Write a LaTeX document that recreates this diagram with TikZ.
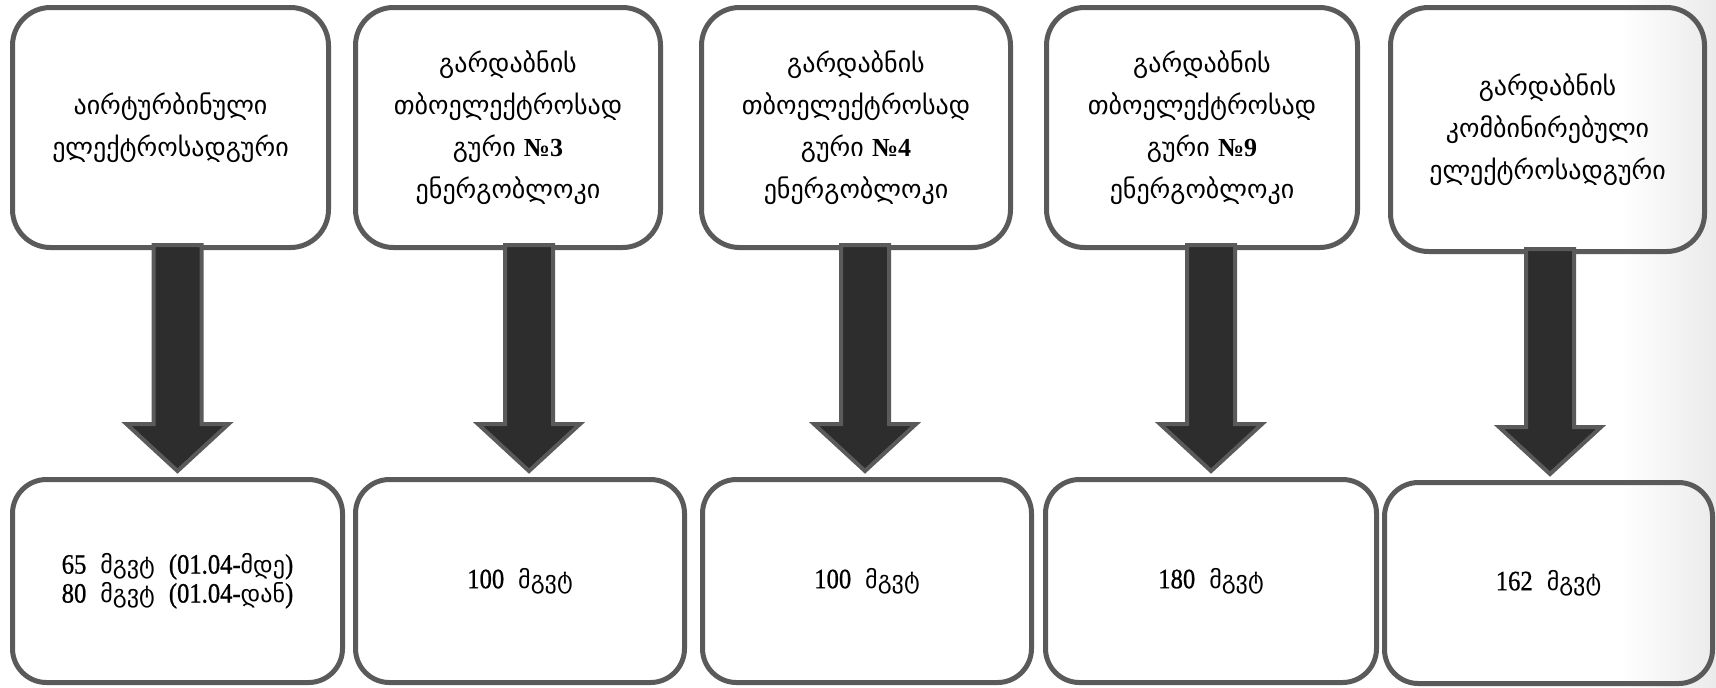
\documentclass[tikz,border=0pt]{standalone}
\usepackage{fontspec}
\setmainfont{Liberation Serif}
\newfontfamily\geo{DejaVu Sans}
\newfontfamily\numf[FakeStretch=0.88,FakeBold=0.8]{Liberation Serif}
\usetikzlibrary{calc}
\definecolor{edge}{HTML}{5A5A5A}
\definecolor{arrowfill}{HTML}{2D2D2D}
\newcommand\geos{\geo\fontsize{12}{14.5}\selectfont}
\newcommand\numb[1]{{\rmfamily\bfseries #1}}
\newcommand\blockarr[3]{%
  \draw[blockarrow]
    ($(#2.north |- #1.south)+(#3-24,-5)$) --
    ($(#2.north)+(#3-24,-53)$) --
    ($(#2.north)+(#3-51,-53)$) --
    ($(#2.north)+(#3,-6)$) --
    ($(#2.north)+(#3+51,-53)$) --
    ($(#2.north)+(#3+24,-53)$) --
    ($(#2.north |- #1.south)+(#3+24,-5)$) -- cycle;}
\begin{document}
\begin{tikzpicture}[x=0.5pt,y=-0.5pt,
  topbox/.style={draw=edge, line width=2.5pt, rounded corners=19pt, align=center,
    inner sep=0pt, minimum height=120pt, font=\geo\fontsize{13}{21}\selectfont},
  botbox/.style={draw=edge, line width=2.5pt, rounded corners=17pt, align=center,
    inner sep=0pt, minimum height=101.5pt, font=\numf\fontsize{14}{14.5}\selectfont},
  blockarrow/.style={draw=edge, fill=arrowfill, line width=2pt, line join=miter}]
\useasboundingbox (0,0) rectangle (1716,687);
\shade[left color=white, right color=black!8] (1620,0) rectangle (1716,687);

\node[topbox, minimum width=158pt] (t1) at (170.5,127.5)
  {აირტურბინული\\ელექტროსადგური};
\node[topbox, minimum width=152.5pt] (t2) at (508,127.5)
  {გარდაბნის\\თბოელექტროსად\\გური \numb{№3}\\ენერგობლოკი};
\node[topbox, minimum width=154.5pt] (t3) at (856,127.5)
  {გარდაბნის\\თბოელექტროსად\\გური \numb{№4}\\ენერგობლოკი};
\node[topbox, minimum width=155.5pt] (t4) at (1202,127.5)
  {გარდაბნის\\თბოელექტროსად\\გური \numb{№9}\\ენერგობლოკი};
\node[topbox, minimum width=157pt, minimum height=122pt] (t5) at (1547.5,129.5)
  {გარდაბნის\\კომბინირებული\\ელექტროსადგური};

\node[botbox, minimum width=165pt] (b1) at (177.5,581)
  {65\enspace{\geos მგვტ}\enspace(01.04-{\geos მდე})\\80\enspace{\geos მგვტ}\enspace(01.04-{\geos დან})};
\node[botbox, minimum width=164.5pt] (b2) at (520,581) {100\enspace{\geos მგვტ}};
\node[botbox, minimum width=164.5pt] (b3) at (867,581) {100\enspace{\geos მგვტ}};
\node[botbox, minimum width=165.5pt] (b4) at (1211,581) {180\enspace{\geos მგვტ}};
\node[botbox, minimum width=164pt, minimum height=100.5pt] (b5) at (1548.5,583) {162\enspace{\geos მგვტ}};

\blockarr{t1}{b1}{0}
\blockarr{t2}{b2}{9}
\blockarr{t3}{b3}{-2}
\blockarr{t4}{b4}{0}
\blockarr{t5}{b5}{1.5}
\end{tikzpicture}
\end{document}
